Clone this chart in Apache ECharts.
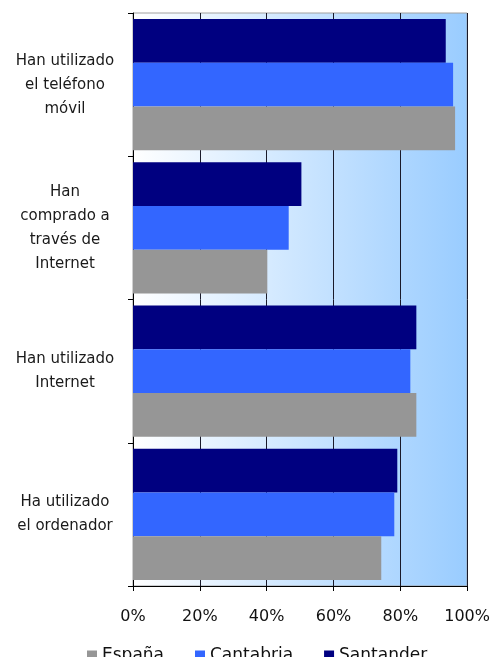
<!DOCTYPE html>
<html>
<head>
<meta charset="utf-8">
<script src="https://cdn.jsdelivr.net/npm/echarts@6/dist/echarts.min.js"></script>
<style>
html,body{margin:0;padding:0;background:#fff;}
#c{width:493px;height:657px;}
</style>
</head>
<body>
<div id="c"></div>
<script>
// categories listed bottom-to-top (ECharts category axis starts at bottom)
const categories = [
  "Ha utilizado\nel ordenador",
  "Han utilizado\nInternet",
  "Han\ncomprado a\ntravés de\nInternet",
  "Han utilizado\nel teléfono\nmóvil"
];
const seriesNames = ["España", "Cantabria", "Santander"];
const espana    = [74.3, 84.8, 40.2, 96.4];
const cantabria = [78.2, 83.0, 46.6, 95.8];
const santander = [79.1, 84.8, 50.4, 93.6];
const xTicks = [0, 20, 40, 60, 80, 100];

const colors = {"España": "#969696", "Cantabria": "#3366FF", "Santander": "#000080"};
const font = "'DejaVu Sans', 'Noto Sans', sans-serif";

const chart = echarts.init(document.getElementById('c'), null, {renderer: 'canvas'});
const mk = (name, data) => ({
  name: name, type: 'bar', data: data,
  itemStyle: {color: colors[name]},
  barGap: '0%', barCategoryGap: '8.5%'
});
chart.setOption({
  animation: false,
  textStyle: {fontFamily: font},
  grid: {
    left: 133, right: 25, top: 13, bottom: 71,
    show: true,
    borderColor: '#a0a0a0',
    borderWidth: 1,
    backgroundColor: new echarts.graphic.LinearGradient(0, 0, 1, 0, [
      {offset: 0, color: '#ffffff'},
      {offset: 1, color: '#99ccff'}
    ])
  },
  legend: {
    data: seriesNames,
    top: 642,
    left: 82,
    itemWidth: 10,
    itemHeight: 10,
    itemGap: 31,
    icon: 'rect',
    textStyle: {fontSize: 17, color: '#111', fontFamily: font}
  },
  xAxis: {
    type: 'value',
    min: xTicks[0],
    max: xTicks[xTicks.length - 1],
    interval: 20,
    axisLine: {show: true, lineStyle: {color: '#000', width: 1}},
    axisTick: {show: true, inside: false, length: 5, lineStyle: {color: '#000'}},
    axisLabel: {formatter: '{value}%', fontSize: 16, color: '#111', margin: 23, fontFamily: font},
    splitLine: {show: true, lineStyle: {color: '#1a1a2a', width: 1}}
  },
  yAxis: {
    type: 'category',
    data: categories,
    axisLine: {show: true, lineStyle: {color: '#000', width: 1}},
    axisTick: {show: true, inside: false, length: 5, lineStyle: {color: '#000'}},
    axisLabel: {fontSize: 15, color: '#1a1a1a', lineHeight: 24, align: 'center', margin: 68, fontFamily: font},
    splitLine: {show: false}
  },
  series: [
    mk("Santander", santander),
    mk("Cantabria", cantabria),
    mk("España", espana)
  ]
});
</script>
</body>
</html>
